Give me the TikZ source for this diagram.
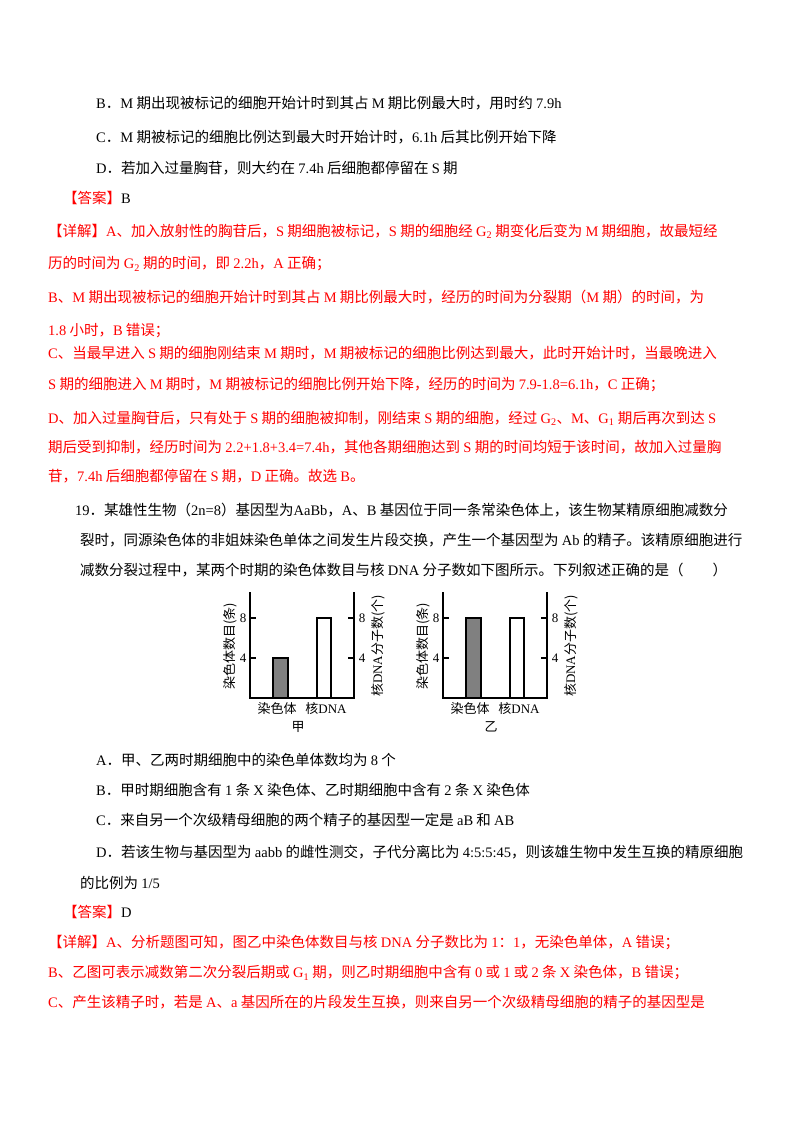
\documentclass[tikz,border=0pt]{standalone}
\usepackage{fontspec}
\setmainfont{Noto Sans CJK SC}
\newfontfamily\lat{Liberation Serif}
\begin{document}
\begin{tikzpicture}[x=1pt,y=-1pt,
  tl/.style={anchor=west,inner sep=0pt,font=\fontsize{14.5}{16}\selectfont},
  rl/.style={tl,text=red},
  ax/.style={line width=1.3pt},
  lab/.style={inner sep=0pt,font=\fontsize{13}{14}\selectfont}]
\useasboundingbox (0,0) rectangle (800,1132);
\node[tl] (l1) at (96,103) {{\lat B}．{\lat M} 期出现被标记的细胞开始计时到其占 {\lat M} 期比例最大时，用时约 {\lat 7.9h}};
\node[tl] (l2) at (96,137) {{\lat C}．{\lat M} 期被标记的细胞比例达到最大时开始计时，{\lat 6.1h} 后其比例开始下降};
\node[tl] (l3) at (96,168) {{\lat D}．若加入过量胸苷，则大约在 {\lat 7.4h} 后细胞都停留在 {\lat S} 期};
\node[tl] (l4) at (63,198) {\textcolor{red}{【答案】}{\lat B}};
\node[rl] (r1) at (48,231) {【详解】{\lat A}、加入放射性的胸苷后，{\lat S} 期细胞被标记，{\lat S} 期的细胞经 {\lat G\textsubscript{2}} 期变化后变为 {\lat M} 期细胞，故最短经};
\node[rl] (r2) at (48,264) {历的时间为 {\lat G\textsubscript{2}} 期的时间，即 {\lat 2.2h}，{\lat A} 正确；};
\node[rl] (r3) at (48,297) {{\lat B}、{\lat M} 期出现被标记的细胞开始计时到其占 {\lat M} 期比例最大时，经历的时间为分裂期（{\lat M} 期）的时间，为};
\node[rl] (r4) at (48,331) {{\lat 1.8} 小时，{\lat B} 错误；};
\node[rl] (r5) at (48,353) {{\lat C}、当最早进入 {\lat S} 期的细胞刚结束 {\lat M} 期时，{\lat M} 期被标记的细胞比例达到最大，此时开始计时，当最晚进入};
\node[rl] (r6) at (48,385) {{\lat S} 期的细胞进入 {\lat M} 期时，{\lat M} 期被标记的细胞比例开始下降，经历的时间为 {\lat 7.9-1.8=6.1h}，{\lat C} 正确；};
\node[rl] (r7) at (48,418) {{\lat D}、加入过量胸苷后，只有处于 {\lat S} 期的细胞被抑制，刚结束 {\lat S} 期的细胞，经过 {\lat G\textsubscript{2}}、{\lat M}、{\lat G\textsubscript{1}} 期后再次到达 {\lat S}};
\node[rl] (r8) at (48,447) {期后受到抑制，经历时间为 {\lat 2.2+1.8+3.4=7.4h}，其他各期细胞达到 {\lat S} 期的时间均短于该时间，故加入过量胸};
\node[rl] (r9) at (48,476) {苷，{\lat 7.4h} 后细胞都停留在 {\lat S} 期，{\lat D} 正确。故选 {\lat B}。};
\node[tl] (q1) at (75,510) {{\lat 19}．某雄性生物（{\lat 2n=8}）基因型为{\lat AaBb}，{\lat A}、{\lat B} 基因位于同一条常染色体上，该生物某精原细胞减数分};
\node[tl] (q2) at (80,540) {裂时，同源染色体的非姐妹染色单体之间发生片段交换，产生一个基因型为 {\lat Ab} 的精子。该精原细胞进行};
\node[tl] (q3) at (80,570) {减数分裂过程中，某两个时期的染色体数目与核 {\lat DNA} 分子数如下图所示。下列叙述正确的是（\quad\quad）};
% charts
\foreach \ox/\h/\nm in {0/40/甲, 193/80/乙}{
  \begin{scope}[xshift=\ox]
  \draw[ax] (250,592) -- (250,698) -- (354,698) -- (354,592);
  \draw[ax] (250,618) -- (256,618) (250,658) -- (256,658);
  \draw[ax] (354,618) -- (348,618) (354,658) -- (348,658);
  \node[lab,font=\lat\fontsize{13}{14}\selectfont] at (243,618) {8};
  \node[lab,font=\lat\fontsize{13}{14}\selectfont] at (243,658) {4};
  \node[lab,font=\lat\fontsize{13}{14}\selectfont] at (362,618) {8};
  \node[lab,font=\lat\fontsize{13}{14}\selectfont] at (362,658) {4};
  \draw[ax,fill=gray] (273,698) rectangle (288,698-\h);
  \draw[ax,fill=white] (317,698) rectangle (331,618);
  \node[lab,rotate=90] at (230,646) {染色体数目(条)};
  \node[lab,rotate=90] at (378,646) {核{\lat DNA}分子数(个)};
  \node[lab] at (277,709) {染色体};
  \node[lab] at (326,709) {核{\lat DNA}};
  \node[lab] at (298,727) {\nm};
  \end{scope}}
\node[tl] (a1) at (96,760) {{\lat A}．甲、乙两时期细胞中的染色单体数均为 {\lat 8} 个};
\node[tl] (a2) at (96,790) {{\lat B}．甲时期细胞含有 {\lat 1} 条 {\lat X} 染色体、乙时期细胞中含有 {\lat 2} 条 {\lat X} 染色体};
\node[tl] (a3) at (96,820) {{\lat C}．来自另一个次级精母细胞的两个精子的基因型一定是 {\lat aB} 和 {\lat AB}};
\node[tl] (a4) at (96,852) {{\lat D}．若该生物与基因型为 {\lat aabb} 的雌性测交，子代分离比为 {\lat 4:5:5:45}，则该雄生物中发生互换的精原细胞};
\node[tl] (a5) at (80,883) {的比例为 {\lat 1/5}};
\node[tl] (b1) at (63,912) {\textcolor{red}{【答案】}{\lat D}};
\node[rl] (s1) at (48,943) {【详解】{\lat A}、分析题图可知，图乙中染色体数目与核 {\lat DNA} 分子数比为 {\lat 1}：{\lat 1}，无染色单体，{\lat A} 错误；};
\node[rl] (s2) at (48,973) {{\lat B}、乙图可表示减数第二次分裂后期或 {\lat G\textsubscript{1}} 期，则乙时期细胞中含有 {\lat 0} 或 {\lat 1} 或 {\lat 2} 条 {\lat X} 染色体，{\lat B} 错误；};
\node[rl] (s3) at (48,1002) {{\lat C}、产生该精子时，若是 {\lat A}、{\lat a} 基因所在的片段发生互换，则来自另一个次级精母细胞的精子的基因型是};
\end{tikzpicture}
\end{document}
